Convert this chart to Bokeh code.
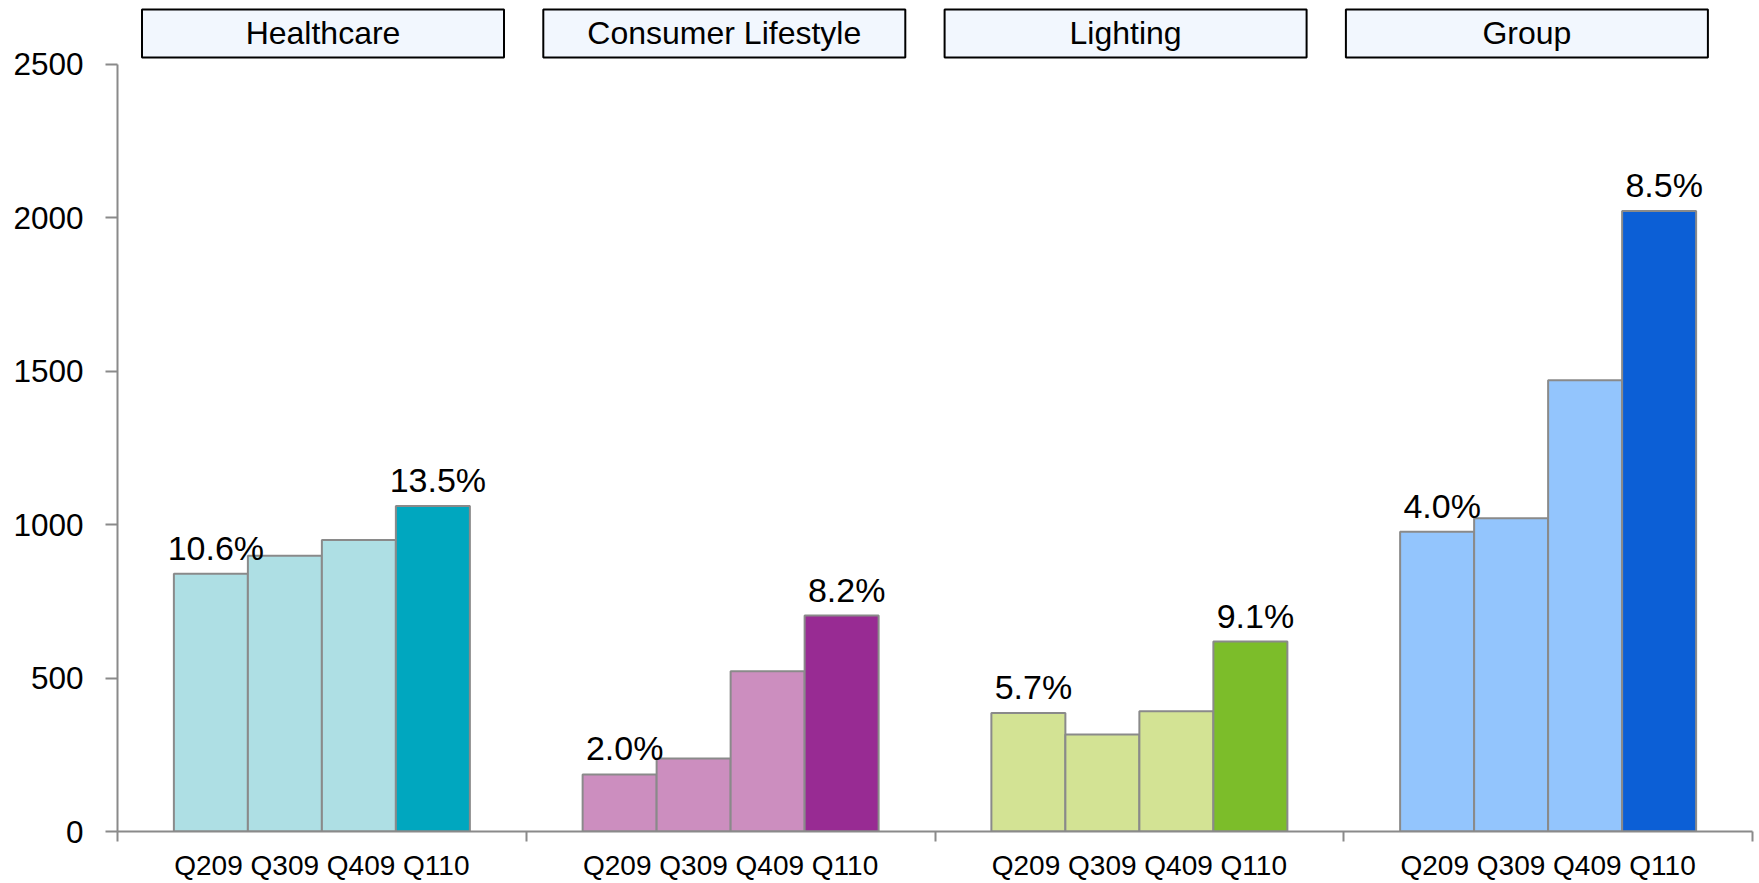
from bokeh.plotting import figure
from bokeh.models import FixedTicker, Range1d
from bokeh.core.properties import value
from bokeh.embed import file_html
from bokeh.resources import INLINE

# ---------------- data ----------------
segments = ["Healthcare", "Consumer Lifestyle", "Lighting", "Group"]
quarters = ["Q209", "Q309", "Q409", "Q110"]
healthcare = [840, 899, 950, 1061]
consumer_lifestyle = [186, 238, 522, 704]
lighting = [386, 316, 392, 619]
group = [977, 1021, 1471, 2022]
first_pct = ["10.6%", "2.0%", "5.7%", "4.0%"]
last_pct = ["13.5%", "8.2%", "9.1%", "8.5%"]
light_colors = ["#AEDFE4", "#CC8EBF", "#D3E394", "#93C5FD"]
dark_colors = ["#00A7BF", "#982B93", "#7CBD2A", "#0C5FD6"]
y_ticks = [0, 500, 1000, 1500, 2000, 2500]

series = [healthcare, consumer_lifestyle, lighting, group]

# ---------------- layout constants ----------------
W, H = 1759, 883
FRAME_L, FRAME_R, FRAME_T, FRAME_B = 117, 1752, 0, 832
PX_PER_UNIT = (832 - 64) / 2500.0
Y_END = (FRAME_B - FRAME_T) / PX_PER_UNIT
CAT_PX = (FRAME_R - FRAME_L) / 4.0
BAR_W = 74.0 / CAT_PX
LABEL_GAP = 26.0 / PX_PER_UNIT
LABEL_SHIFT = 5.0 / CAT_PX
FONT = value("Liberation Sans")

def px_to_x(px):
    return (px - FRAME_L) / CAT_PX

def px_to_y(py):
    return (FRAME_B - py) / PX_PER_UNIT

p = figure(width=W, height=H, output_backend="svg", toolbar_location=None,
           x_range=Range1d(0, 4), y_range=Range1d(0, Y_END),
           min_border_left=FRAME_L, min_border_right=W - FRAME_R,
           min_border_top=FRAME_T, min_border_bottom=H - FRAME_B)
p.outline_line_color = None
p.xgrid.grid_line_color = None
p.ygrid.grid_line_color = None
p.background_fill_color = "white"
p.border_fill_color = "white"

# bars
lefts, rights, tops, fills, centers = [], [], [], [], []
for i, vals in enumerate(series):
    for j, v in enumerate(vals):
        c = i + 0.5 + (j - 1.5) * BAR_W
        lefts.append(c - BAR_W / 2)
        rights.append(c + BAR_W / 2)
        tops.append(v)
        fills.append(dark_colors[i] if j == 3 else light_colors[i])
        centers.append(c)

p.quad(left=lefts, right=rights, bottom=0, top=tops, fill_color=fills,
       line_color="#8A8A8A", line_width=2)

# percentage labels on first and last bars
lx, ly, lt = [], [], []
for i, vals in enumerate(series):
    lx.append(centers[i * 4] + LABEL_SHIFT); ly.append(vals[0] + LABEL_GAP); lt.append(first_pct[i])
    lx.append(centers[i * 4 + 3] + LABEL_SHIFT); ly.append(vals[3] + LABEL_GAP); lt.append(last_pct[i])
p.text(x=lx, y=ly, text=lt, text_align="center", text_baseline="middle",
       text_font=FONT, text_font_size="34px", text_color="black")

# header boxes
bl, br, bc = [], [], []
for i in range(4):
    cpx = 322.5 + 401.3 * i
    bl.append(px_to_x(cpx - 181)); br.append(px_to_x(cpx + 181)); bc.append(px_to_x(cpx))
p.quad(left=bl, right=br, bottom=px_to_y(57), top=px_to_y(9),
       fill_color="#F2F7FE", line_color="black", line_width=2)
p.text(x=bc, y=[px_to_y(33)] * 4, text=segments, text_align="center",
       text_baseline="middle", text_font=FONT, text_font_size="32px", text_color="black")

# axes
ax = p.yaxis[0]
ax.ticker = FixedTicker(ticks=y_ticks, minor_ticks=[])
ax.bounds = (0, 2500)
ax.axis_line_color = "#8A8A8A"
ax.axis_line_width = 2
ax.major_tick_line_color = "#8A8A8A"
ax.major_tick_line_width = 2
ax.major_tick_out = 12
ax.major_tick_in = 0
ax.minor_tick_line_color = None
ax.major_label_text_font = "Liberation Sans"
ax.major_label_text_font_size = "31.5px"
ax.major_label_text_color = "black"
ax.major_label_standoff = 22

cat_centers = [i + 0.5 for i in range(4)]
xa = p.xaxis[0]
xa.ticker = FixedTicker(ticks=cat_centers, minor_ticks=[0, 1, 2, 3, 4])
xa.major_label_overrides = {c: " ".join(quarters) for c in cat_centers}
xa.axis_line_color = "#8A8A8A"
xa.axis_line_width = 2
xa.major_tick_line_color = None
xa.major_tick_out = 0
xa.major_tick_in = 0
xa.minor_tick_line_color = "#8A8A8A"
xa.minor_tick_line_width = 2
xa.minor_tick_out = 10
xa.minor_tick_in = 0
xa.major_label_text_font = "Liberation Sans"
xa.major_label_text_font_size = "28px"
xa.major_label_text_color = "black"
xa.major_label_standoff = 8

open("out.html", "w").write(file_html(p, INLINE))
